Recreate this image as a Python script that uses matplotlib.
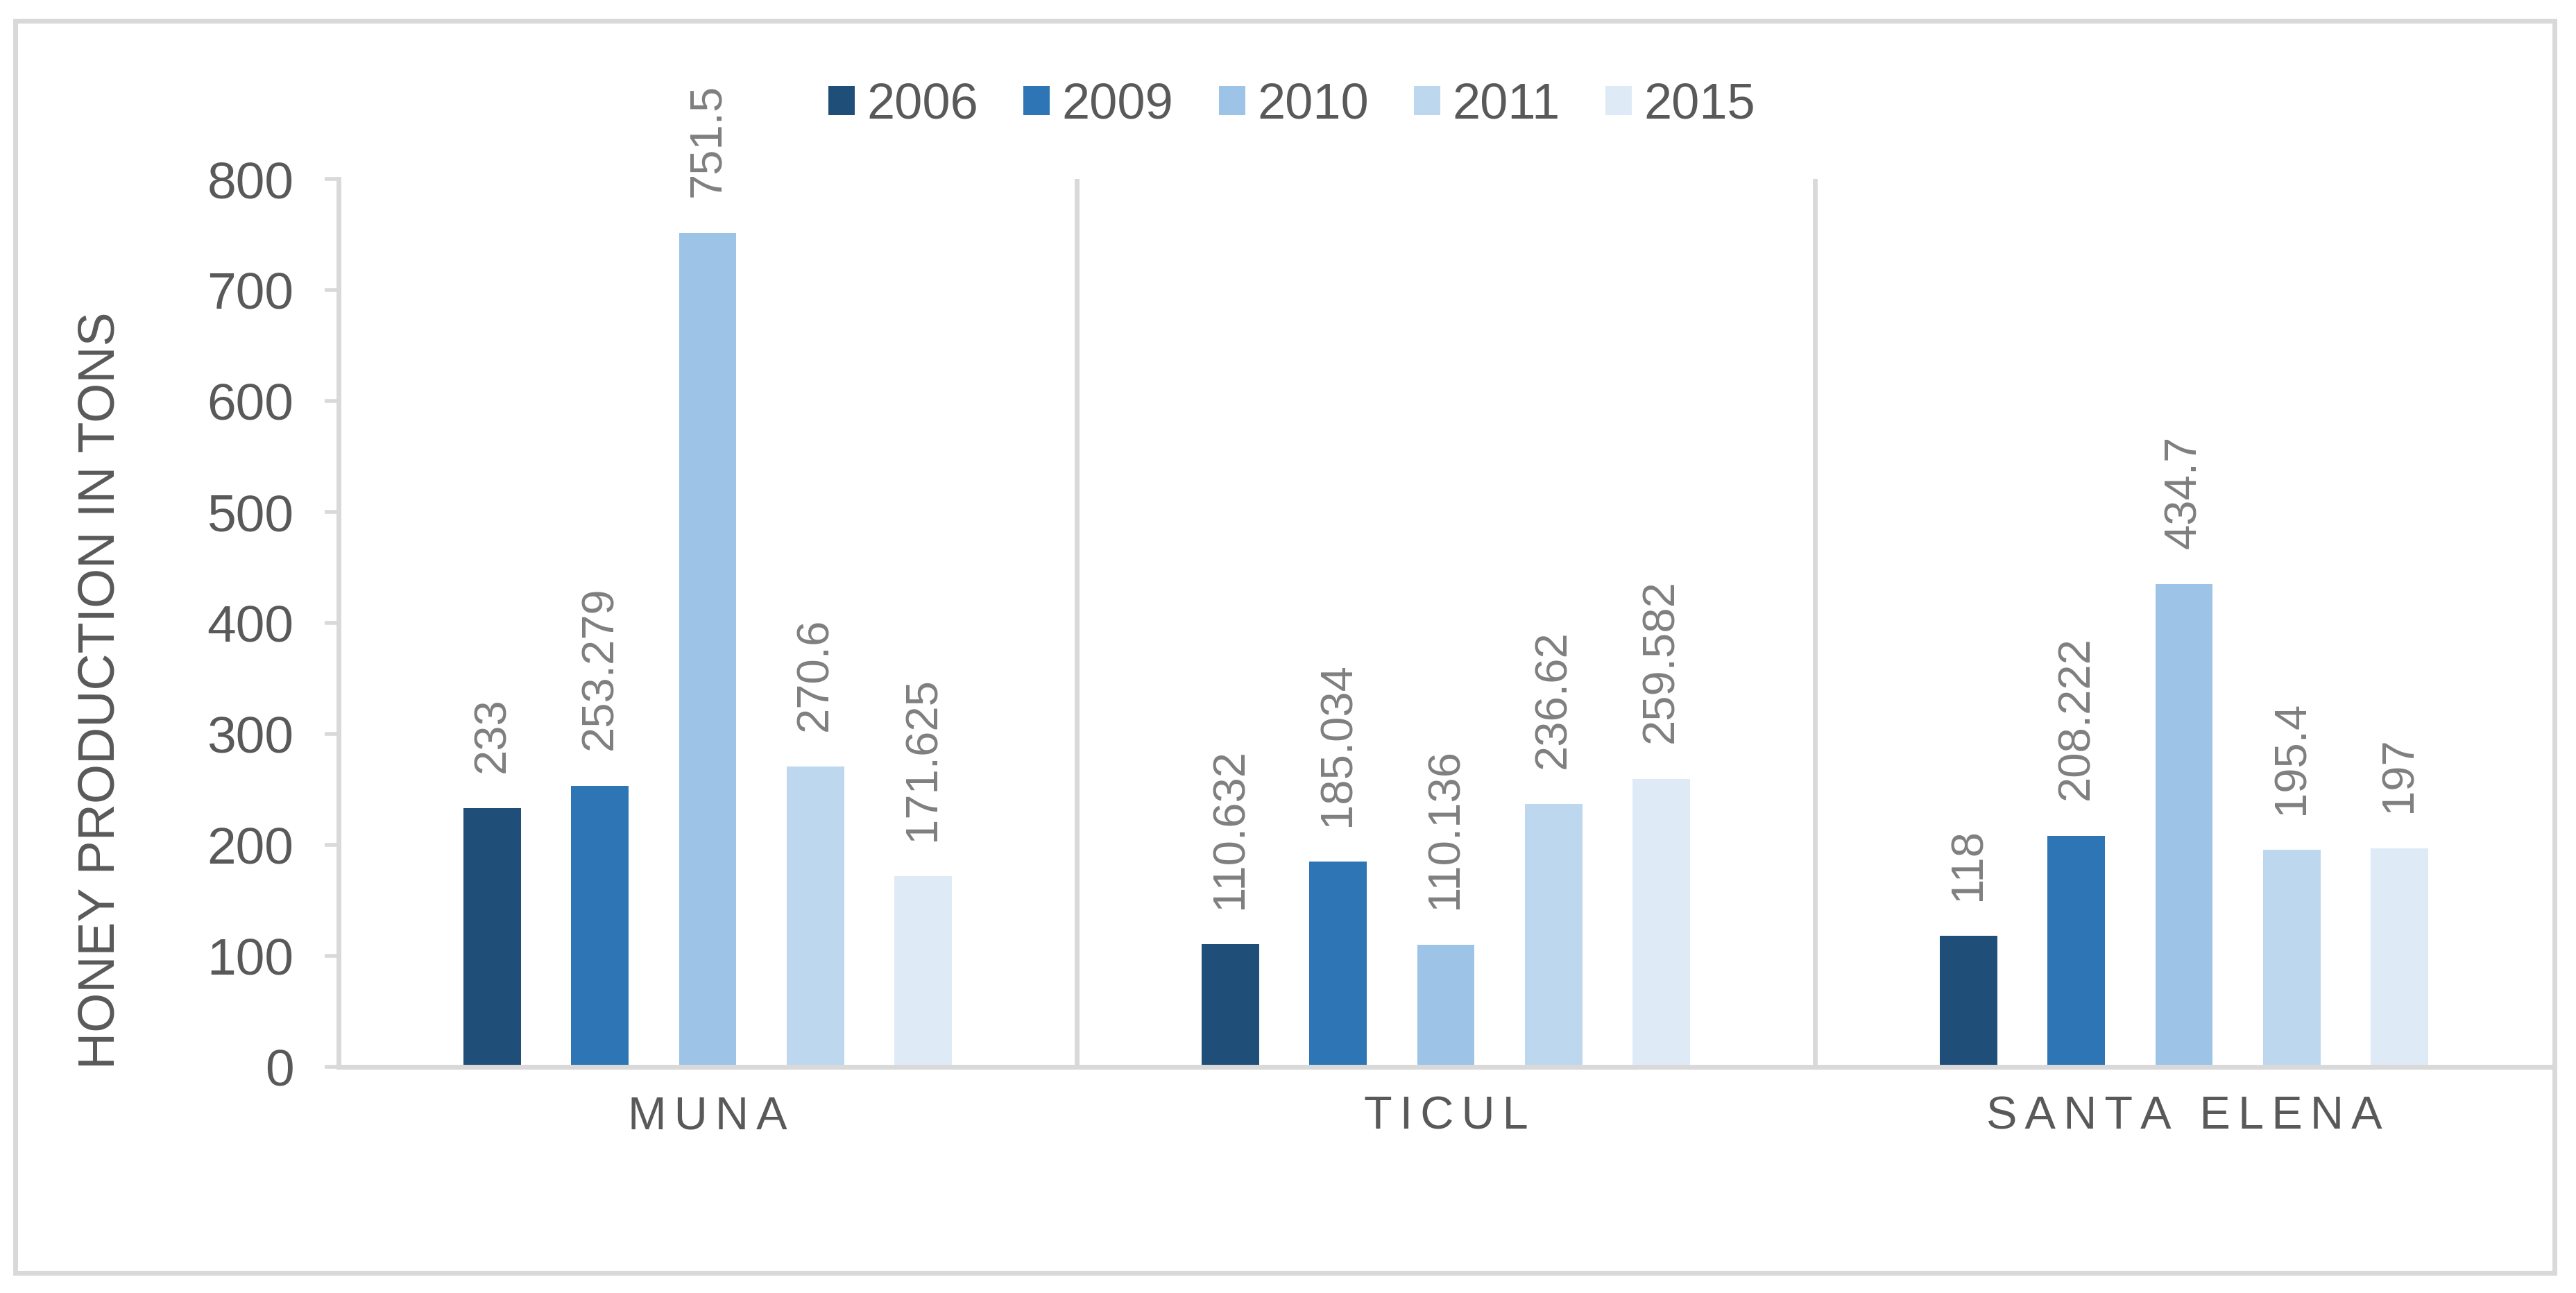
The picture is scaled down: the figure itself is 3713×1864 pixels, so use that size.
import matplotlib
matplotlib.use('Agg')
from matplotlib import pyplot as plt
from matplotlib.patches import Rectangle


TOWNS = ['MUNA', 'TICUL', 'SANTA ELENA']
YEARS = ['2006', '2009', '2010', '2011', '2015']

# honey production (tons) per year, one value per town
PROD_2006 = [233, 110.632, 118]
PROD_2009 = [253.279, 185.034, 208.222]
PROD_2010 = [751.5, 110.136, 434.7]
PROD_2011 = [270.6, 236.62, 195.4]
PROD_2015 = [171.625, 259.582, 197]

YEAR_COLORS = ['#1F4E79', '#2E75B6', '#9DC3E6', '#BDD7EE', '#DEEBF7']

Y_TICKS = [0, 100, 200, 300, 400, 500, 600, 700, 800]

GRID = '#D9D9D9'
TEXT = '#595959'
LABEL = '#7F7F7F'
DPI = 200
W_PX, H_PX = 3713, 1864


def spaced(s: str) -> str:
    # imitate the letter spacing of the category labels (six-per-em spaces)
    gap = '\u2006'
    return (gap + ' ' + gap).join(gap.join(word) for word in s.split(' '))


def main():
    plt.rcParams['font.family'] = ['Liberation Sans', 'DejaVu Sans']

    fig = plt.figure(figsize=(W_PX / DPI, H_PX / DPI), dpi=DPI)
    ax = fig.add_axes([488 / W_PX, 1 - 1538 / H_PX, (3680 - 488) / W_PX, (1538 - 258) / H_PX])

    # outer chart border
    fig.patches.append(Rectangle(
        (22 / W_PX, 1 - 1835 / H_PX), (3682 - 22) / W_PX, (1835 - 30) / H_PX,
        transform=fig.transFigure, fill=False, edgecolor=GRID, linewidth=2.5))

    series = [PROD_2006, PROD_2009, PROD_2010, PROD_2011, PROD_2015]
    step = 0.1457
    width = 0.078
    for (i, (year, values, color)) in enumerate(zip(YEARS, series, YEAR_COLORS)):
        xs = [t + (i - 2) * step for t in range(len(TOWNS))]
        bars = ax.bar(xs, values, width=width, color=color, label=year, zorder=2)
        for (bar, v) in zip(bars, values):
            ax.annotate(f'{v:g}', (bar.get_x() + bar.get_width() / 2, bar.get_height()),
                        xytext=(0, 18.5), textcoords='offset points',
                        ha='center', va='bottom', rotation=90,
                        fontsize=23.5, color=LABEL)

    # separators between town groups
    for k in range(1, len(TOWNS)):
        ax.plot([k - 0.5, k - 0.5], [0, Y_TICKS[-1]], color=GRID, linewidth=2.5, zorder=1)

    ax.set_xlim(-0.5, len(TOWNS) - 0.5)
    ax.set_ylim(0, Y_TICKS[-1])
    ax.set_yticks(Y_TICKS, [str(t) for t in Y_TICKS])
    ax.set_xticks(range(len(TOWNS)), [spaced(t) for t in TOWNS])

    ax.tick_params(axis='y', length=7.2, width=2.0, color=GRID, pad=16,
                   labelsize=27, labelcolor=TEXT)
    ax.tick_params(axis='x', length=0, pad=15, labelsize=24, labelcolor=TEXT)

    for side in ('top', 'right'):
        ax.spines[side].set_visible(False)
    for side in ('left', 'bottom'):
        ax.spines[side].set_color(GRID)
        ax.spines[side].set_linewidth(2.5)

    fig.text(145 / W_PX, 1 - 995 / H_PX, 'HONEY PRODUCTION IN TONS', rotation=90,
             ha='center', va='center', fontsize=26.5, color=TEXT)

    handles, labels = ax.get_legend_handles_labels()
    fig.legend(handles, labels, loc='center', bbox_to_anchor=(1862 / W_PX, 1 - 152 / H_PX),
               ncol=len(YEARS), frameon=False, fontsize=26, labelcolor=TEXT,
               handlelength=0.53, handleheight=0.51, handletextpad=0.24,
               columnspacing=0.9, borderpad=0)

    fig.savefig('out.png', dpi=DPI, facecolor='white')


if __name__ == '__main__':
    main()
